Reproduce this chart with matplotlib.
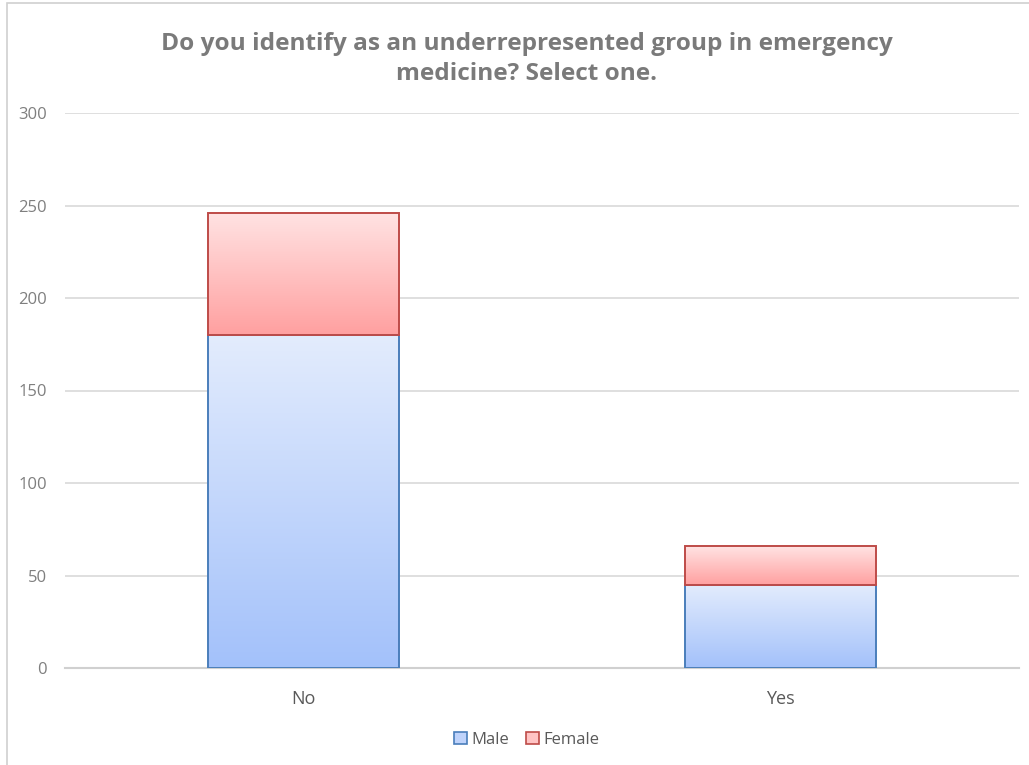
import numpy as np
import matplotlib.pyplot as plt
from matplotlib.colors import LinearSegmentedColormap
from matplotlib.patches import Rectangle

categories = ['No', 'Yes']
male = [180, 45]
female = [66, 21]
series_names = ['Male', 'Female']
y_ticks = [0, 50, 100, 150, 200, 250, 300]

plt.rcParams['font.family'] = ['Open Sans', 'DejaVu Sans']

fig = plt.figure(figsize=(10.29, 7.65), dpi=100)
ax = fig.add_axes([65 / 1029, 1 - 668 / 765, 954 / 1029, 555 / 765])

# chart frame
fig.patches.append(Rectangle((7 / 1029, -0.01), 1.1, 1 - 3 / 765 + 0.01, transform=fig.transFigure,
                             fill=False, edgecolor='#D0D0D0', linewidth=1.2))

blue_cmap = LinearSegmentedColormap.from_list('blue', ['#A3C1FA', '#E3ECFD'])
red_cmap = LinearSegmentedColormap.from_list('red', ['#FFA0A0', '#FFE3E3'])

x = np.arange(len(categories))
width = 0.40
grad = np.linspace(0, 1, 256).reshape(-1, 1)


def gradient_bars(xs, heights, bottoms, cmap, edge, label):
    bars = ax.bar(xs, heights, width, bottom=bottoms, facecolor='none', edgecolor=edge,
                  linewidth=1.4, label=label, zorder=3)
    for b in bars:
        x0, y0 = b.get_x(), b.get_y()
        im = ax.imshow(grad, cmap=cmap, aspect='auto', origin='lower',
                       extent=[x0, x0 + b.get_width(), y0, y0 + b.get_height()], zorder=2)
        im.set_clip_path(b)
    return bars


gradient_bars(x, male, [0, 0], blue_cmap, '#4A7EBB', series_names[0])
gradient_bars(x, female, male, red_cmap, '#BE4B48', series_names[1])

ax.set_xlim(-0.5, 1.5)
ax.set_ylim(0, 300)
ax.set_yticks(y_ticks)
ax.set_xticks(x)
ax.set_xticklabels(categories)
ax.yaxis.grid(True, color='#D9D9D9', linewidth=1.2, zorder=0)
ax.set_axisbelow(True)
for s in ['top', 'right', 'left']:
    ax.spines[s].set_visible(False)
ax.spines['bottom'].set_color('#D0D0D0')
ax.spines['bottom'].set_linewidth(1.5)
ax.tick_params(axis='both', length=0, colors='#595959')
ax.tick_params(axis='y', pad=13, labelsize=12)
ax.tick_params(axis='x', pad=16, labelsize=13)
for t in ax.get_yticklabels():
    t.set_color('#7F7F7F')
for t in ax.get_xticklabels():
    t.set_color('#595959')

fig.text(527 / 1029, 1 - 59 / 765, 'Do you identify as an underrepresented group in emergency\nmedicine? Select one.',
         ha='center', va='center', fontsize=17.6, fontweight='bold', color='#7A7A7A', linespacing=1.35)

handles = [Rectangle((0, 0), 1, 1, facecolor='#BFD3FB', edgecolor='#4A7EBB', linewidth=1.2),
           Rectangle((0, 0), 1, 1, facecolor='#FFC4C4', edgecolor='#BE4B48', linewidth=1.2)]
fig.legend(handles, series_names, loc='center', bbox_to_anchor=(527 / 1029, 1 - 740 / 765), ncol=2,
           frameon=False, fontsize=12, handlelength=0.75, handleheight=0.75, handletextpad=0.3,
           columnspacing=1.0, labelcolor='#595959')

fig.savefig('out.png', dpi=100)
